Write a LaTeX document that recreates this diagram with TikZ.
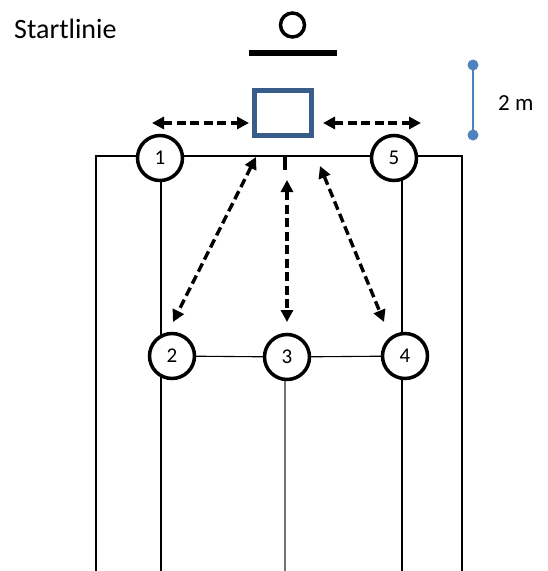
\documentclass[tikz,border=0pt]{standalone}
\usepackage{fontspec}
\setmainfont{Carlito}
\usetikzlibrary{arrows.meta}
\definecolor{boxblue}{HTML}{385D8A}
\definecolor{scaleblue}{HTML}{4F81BD}
\tikzset{
  station/.style={circle, draw=black, line width=3.5pt, fill=white, minimum size=45pt, inner sep=0pt, font=\fontsize{21}{21}\selectfont},
  field/.style={line width=2.6pt},
  thinline/.style={line width=1.1pt},
  runarrow/.style={line width=3.4pt, dash pattern=on 9pt off 4.5pt,
    {Triangle[length=12pt,width=12pt]}-{Triangle[length=12pt,width=12pt]}},
}
\begin{document}
\begin{tikzpicture}[x=1pt,y=-1pt]
\useasboundingbox (0,0) rectangle (547,571);
% title
\node[anchor=base west, inner sep=0pt, font=\fontsize{28}{28}\selectfont] (title) at (14,38) {Startlinie};
% start marker
\node[circle, draw, line width=3.5pt, minimum size=24pt, inner sep=0pt] (ring) at (292.5,25) {};
\draw[line width=6pt] (249,53) -- (337,53);
% scale bar
\coordinate (s1) at (473,65);
\coordinate (s2) at (473,135);
\draw[scaleblue, line width=2.5pt] (s1) -- (s2);
\fill[scaleblue] (s1) circle (5.5pt) (s2) circle (5.5pt);
\node[anchor=west, inner sep=0pt, font=\fontsize{23}{23}\selectfont] (dist) at (498,103) {2 m};
% field
\draw[field] (96,571) -- (96,156) -- (462,156) -- (462,571);
\draw[field] (161,158) -- (161,571);
\draw[field] (402,158) -- (402,571);
\draw[line width=4pt] (285,156) -- (285,170);
% box
\draw[boxblue, line width=5pt] (254.5,90.5) rectangle (311.5,135.5);
% stations
\node[station] (n1) at (160,158) {1};
\node[station] (n5) at (394,158) {5};
\node[station] (n2) at (172,356) {2};
\node[station] (n3) at (287,357) {3};
\node[station] (n4) at (405,356) {4};
\draw[thinline] (n2) -- (n3);
\draw[thinline] (n3) -- (n4);
\draw[line width=1.3pt, black!55] (n3.south -| 285,0) -- (285,571);
% arrows
\coordinate (a1) at (152,123); \coordinate (a2) at (249,123);
\coordinate (b1) at (323,123); \coordinate (b2) at (421,123);
\coordinate (c1) at (256,157); \coordinate (c2) at (173,322);
\coordinate (d1) at (287,180); \coordinate (d2) at (287,322);
\coordinate (e1) at (320,166); \coordinate (e2) at (384,322);
\draw[runarrow] (a1) -- (a2);
\draw[runarrow] (b1) -- (b2);
\draw[runarrow] (c1) -- (c2);
\draw[runarrow] (d1) -- (d2);
\draw[runarrow] (e1) -- (e2);
\end{tikzpicture}
\end{document}
